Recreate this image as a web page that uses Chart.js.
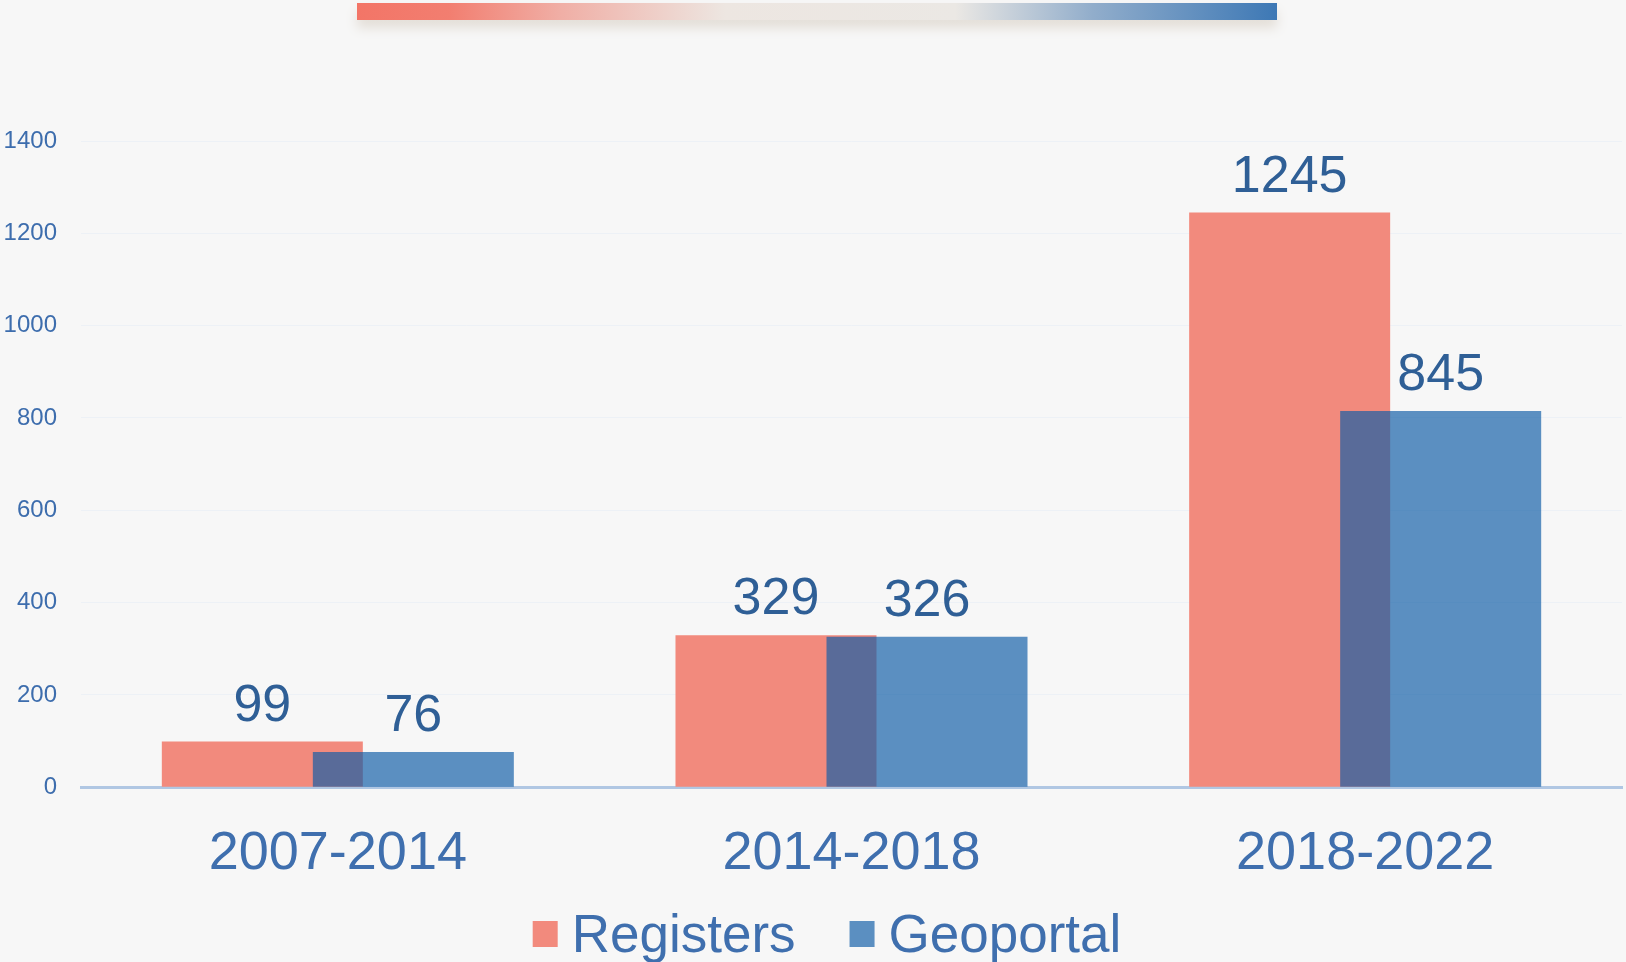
<!DOCTYPE html>
<html>
<head>
<meta charset="utf-8">
<script src="https://cdn.jsdelivr.net/npm/chart.js@4.4.1/dist/chart.umd.min.js"></script>
<style>
  html, body { margin: 0; padding: 0; background: #f7f7f7; }
  #wrap { position: relative; width: 1626px; height: 962px; }
</style>
</head>
<body>
<div id="wrap"><canvas id="periodChart"></canvas></div>
<script>
const periods = ['2007-2014', '2014-2018', '2018-2022'];
const seriesNames = ['Registers', 'Geoportal'];
const registers = [99, 329, 1245];
const geoportal = [76, 326, 815];
const registersLabels = ['99', '329', '1245'];
const geoportalLabels = ['76', '326', '845'];
const yTicks = [0, 200, 400, 600, 800, 1000, 1200, 1400];

const RED = 'rgb(242,138,125)';
const BLUE = 'rgba(16,93,166,0.68)';
const FONT = '"Liberation Sans", Arial, sans-serif';

// page background + the gradient strip at the top
const decor = {
  id: 'decor',
  beforeDraw(chart) {
    const c = chart.ctx;
    c.save();
    c.fillStyle = '#f7f7f7';
    c.fillRect(0, 0, chart.width, chart.height);
    const x0 = 357, x1 = 1277, y0 = 3, h = 17;
    const g = c.createLinearGradient(x0, 0, x1, 0);
    g.addColorStop(0, '#f37567');
    g.addColorStop(0.1, '#f27e70');
    g.addColorStop(0.22, '#f0aea5');
    g.addColorStop(0.4, '#ede6e1');
    g.addColorStop(0.65, '#ebe8e4');
    g.addColorStop(0.8, '#91adcb');
    g.addColorStop(1, '#3d78b5');
    c.shadowColor = 'rgba(190,175,155,0.35)';
    c.shadowBlur = 12;
    c.shadowOffsetY = 8;
    c.fillStyle = g;
    c.fillRect(x0, y0, x1 - x0, h);
    c.restore();
  }
};

// chart.js paints dataset 0 last; paint red first so blue sits on top
const drawOrder = {
  id: 'drawOrder',
  beforeDatasetsDraw(chart) {
    chart.data.datasets.forEach((ds, i) => {
      const meta = chart.getDatasetMeta(i);
      if (!meta.hidden) meta.controller.draw();
    });
    return false;
  }
};

// value labels over bars + legend under the axis
const overlay = {
  id: 'overlay',
  afterDraw(chart) {
    const c = chart.ctx;
    c.save();
    c.font = '52px ' + FONT;
    c.fillStyle = '#2f5f96';
    c.textAlign = 'center';
    c.textBaseline = 'alphabetic';
    [registersLabels, geoportalLabels].forEach((labels, i) => {
      chart.getDatasetMeta(i).data.forEach((bar, j) => {
        c.fillText(labels[j], bar.x, bar.y - 21);
      });
    });

    c.font = '53px ' + FONT;
    c.textAlign = 'left';
    const colors = [RED, BLUE];
    const box = 25, gapText = 14, gapItem = 54;
    const widths = seriesNames.map(n => c.measureText(n).width);
    const total = widths.reduce((s, w) => s + box + gapText + w, 0) + gapItem;
    let x = 827 - total / 2;
    seriesNames.forEach((name, i) => {
      c.fillStyle = colors[i];
      c.fillRect(x, 921, box, 26);
      c.fillStyle = '#3f6fae';
      c.fillText(name, x + box + gapText, 952);
      x += box + gapText + widths[i] + gapItem;
    });
    c.restore();
  }
};

new Chart(document.getElementById('periodChart'), {
  type: 'bar',
  data: {
    labels: periods,
    datasets: [
      { label: seriesNames[0], data: registers, backgroundColor: RED },
      { label: seriesNames[1], data: geoportal, backgroundColor: BLUE }
    ]
  },
  options: {
    responsive: true,
    maintainAspectRatio: false,
    animation: false,
    categoryPercentage: 0.588,
    barPercentage: 1.331,
    layout: { padding: { top: 141, left: 4, right: 4, bottom: 48 } },
    plugins: { legend: { display: false }, tooltip: { enabled: false } },
    scales: {
      x: {
        grid: { display: false },
        border: { color: '#b0c7e3', width: 3 },
        ticks: { color: '#3f6fae', font: { family: FONT, size: 54 }, padding: 27 },
        afterFit: s => { s.paddingLeft = 0; s.paddingRight = 0; }
      },
      y: {
        min: 0,
        max: 1400,
        afterBuildTicks: axis => { axis.ticks = yTicks.map(v => ({ value: v })); },
        afterFit: axis => { axis.width = 77; },
        grid: { color: '#edf1f6', drawTicks: false },
        border: { display: false },
        ticks: {
          color: '#3d6dad',
          font: { family: FONT, size: 24 },
          padding: 24,
          callback: v => String(v)
        }
      }
    }
  },
  plugins: [decor, drawOrder, overlay]
});
</script>
</body>
</html>
